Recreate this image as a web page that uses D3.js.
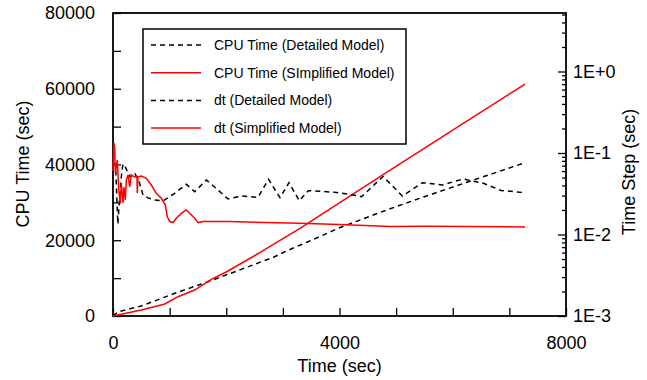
<!DOCTYPE html>
<html>
<head>
<meta charset="utf-8">
<script src="https://cdn.jsdelivr.net/npm/d3@7"></script>
<style>
  body { margin: 0; background: #fff; }
  text { font-family: "Liberation Sans", Arial, sans-serif; fill: #000; }
</style>
</head>
<body>
<script>
// cpu time curves (left axis), time in sec
var cpuDetTime = [0, 90, 500, 1090, 1678, 2266, 2855, 3067, 3444, 4000, 4800, 5500, 6246, 7276];
var cpuDetVal  = [0, 1100, 2640, 5990, 9060, 12320, 15660, 17200, 19600, 23300, 27800, 31500, 35300, 40470];
var cpuSimTime = [0, 500, 913, 1148, 1443, 1737, 2031, 2620, 3302, 4715, 6000, 7276];
var cpuSimVal  = [0, 1600, 3170, 5100, 6860, 9680, 11880, 16980, 23150, 36780, 49060, 61250];

// time step curves (right axis, log)
var dtDetTime = [0, 45, 85, 140, 175, 210, 265, 305, 383, 470, 530, 618, 736, 883, 1090, 1295, 1443, 1648, 1854, 2031,
                 2266, 2560, 2747, 2949, 3108, 3290, 3449, 3920, 4240, 4390, 4770, 5110, 5466, 5820, 6180, 6540, 6855, 7276];
var dtDetVal  = [0.0733, 0.0733, 0.0135, 0.0466, 0.0733, 0.0692, 0.0568, 0.0508, 0.0568, 0.0428, 0.0305, 0.0281, 0.0265, 0.0258, 0.0320, 0.0413, 0.0335, 0.0466, 0.0352, 0.0273,
                 0.0297, 0.0286, 0.0476, 0.0283, 0.0432, 0.0260, 0.0345, 0.0330, 0.0305, 0.0291, 0.0515, 0.0297, 0.0432, 0.0405, 0.0480, 0.0425, 0.0347, 0.0326];
var dtSimTime = [0, 15, 30, 41, 76, 101, 129, 147, 177, 194, 217, 235, 265, 295, 323, 383, 424, 429, 441, 500, 588, 676, 765, 853, 924, 959,
                 1001, 1060, 1118, 1206, 1294, 1354, 1443, 1501, 1589, 2031, 2700, 3300, 4000, 4892, 5500, 6300, 7276];
var dtSimVal  = [0.06, 0.133, 0.118, 0.0568, 0.082, 0.0352, 0.0244, 0.0428, 0.0244, 0.0383, 0.0265, 0.0466, 0.0537, 0.0383, 0.0537, 0.0508, 0.051, 0.0323, 0.051, 0.0522, 0.049, 0.0405, 0.032, 0.0278, 0.0230, 0.0165,
                 0.0144, 0.0140, 0.0158, 0.0182, 0.0200, 0.0182, 0.0158, 0.0140, 0.0144, 0.0144, 0.0140, 0.0137, 0.0133, 0.0125, 0.0126, 0.0125, 0.0124];

var xTicks = [0, 1000, 2000, 3000, 4000, 5000, 6000, 7000, 8000];
var xLabels = [0, 4000, 8000];
var yTicks = [0, 10000, 20000, 30000, 40000, 50000, 60000, 70000, 80000];
var yLabels = [0, 20000, 40000, 60000, 80000];
var dtLabels = ["1E-3", "1E-2", "1E-1", "1E+0"];

var legendNames = ["CPU Time (Detailed Model)", "CPU Time (SImplified Model)", "dt (Detailed Model)", "dt (Simplified Model)"];

var W = 647, H = 380;
var margin = {top: 13, right: 81, bottom: 64, left: 113},
    width = W - margin.left - margin.right,
    height = H - margin.top - margin.bottom;

var svg = d3.select("body").append("svg")
    .attr("width", W)
    .attr("height", H);

var g = svg.append("g")
    .attr("transform", "translate(" + margin.left + "," + margin.top + ")");

var x = d3.scaleLinear().domain([0, 8000]).range([0, width]);
var y = d3.scaleLinear().domain([0, 80000]).range([height, 0]);
var yTop = Math.pow(10, -3 + height / 81.5);
var y2 = d3.scaleLog().domain([1e-3, yTop]).range([height, 0]);

// log ticks: 1..9 per decade
var dtTicks = [];
[-3, -2, -1, 0].forEach(function(k) {
  for (var m = 1; m <= 9; m++) {
    var v = m * Math.pow(10, k);
    if (v <= yTop) dtTicks.push(v);
  }
});

// axes
var fs = 18;
var xAxis = g.append("g").attr("transform", "translate(0," + height + ")")
  .call(d3.axisBottom(x).tickValues(xTicks).tickSizeInner(-8).tickSizeOuter(0).tickPadding(20)
    .tickFormat(function(d) { return xLabels.indexOf(d) >= 0 ? d : ""; }));
var yAxis = g.append("g")
  .call(d3.axisLeft(y).tickValues(yTicks).tickSizeInner(-8).tickSizeOuter(0).tickPadding(18)
    .tickFormat(function(d) { return yLabels.indexOf(d) >= 0 ? d : ""; }));
var y2Axis = g.append("g").attr("transform", "translate(" + width + ",0)")
  .call(d3.axisRight(y2).tickValues(dtTicks).tickSizeInner(-4).tickSizeOuter(0).tickPadding(7)
    .tickFormat(function(d) {
      var e = Math.log10(d);
      return Math.abs(e - Math.round(e)) < 1e-9 ? dtLabels[Math.round(e) + 3] : "";
    }));
y2Axis.selectAll(".tick line").attr("x2", function(d) {
  var e = Math.log10(d);
  return Math.abs(e - Math.round(e)) < 1e-9 ? -8 : -4;
});

[xAxis, yAxis, y2Axis].forEach(function(a) {
  a.selectAll(".domain").remove();
  a.selectAll(".tick line").attr("stroke", "#000").attr("stroke-width", 1.3);
  a.selectAll("text").attr("font-size", fs).attr("font-family", "Liberation Sans, Arial, sans-serif");
});

// frame
g.append("rect")
  .attr("width", width).attr("height", height)
  .attr("fill", "none").attr("stroke", "#000").attr("stroke-width", 1.8);

// lines
function drawLine(ts, vs, yScale, color, dash) {
  var pts = ts.map(function(t, i) { return [t, vs[i]]; });
  var line = d3.line().x(function(d) { return x(d[0]); }).y(function(d) { return yScale(d[1]); });
  g.append("path").datum(pts)
    .attr("d", line)
    .attr("fill", "none")
    .attr("stroke", color)
    .attr("stroke-width", 1.5)
    .attr("stroke-dasharray", dash);
}
drawLine(cpuDetTime, cpuDetVal, y, "#000", "5,4");
drawLine(cpuSimTime, cpuSimVal, y, "#ff0000", null);
drawLine(dtDetTime, dtDetVal, y2, "#000", "5,4");
drawLine(dtSimTime, dtSimVal, y2, "#ff0000", null);

// axis titles
svg.append("text")
  .attr("x", margin.left + width / 2).attr("y", 372)
  .attr("text-anchor", "middle").attr("font-size", fs)
  .text("Time (sec)");
svg.append("text")
  .attr("transform", "translate(29,164) rotate(-90)")
  .attr("text-anchor", "middle").attr("font-size", fs)
  .text("CPU Time (sec)");
svg.append("text")
  .attr("transform", "translate(635,172) rotate(-90)")
  .attr("text-anchor", "middle").attr("font-size", fs)
  .text("Time Step (sec)");

// legend
var leg = svg.append("g").attr("transform", "translate(143,29)");
leg.append("rect").attr("width", 263).attr("height", 115)
  .attr("fill", "#fff").attr("stroke", "#000").attr("stroke-width", 1.5);
var legColors = ["#000", "#ff0000", "#000", "#ff0000"];
var legDash = ["5,4", null, "5,4", null];
legendNames.forEach(function(name, i) {
  var yy = 16 + i * 27.7;
  leg.append("line").attr("x1", 8).attr("x2", 58).attr("y1", yy).attr("y2", yy)
    .attr("stroke", legColors[i]).attr("stroke-width", 1.5).attr("stroke-dasharray", legDash[i]);
  leg.append("text").attr("x", 71).attr("y", yy).attr("dy", "0.35em")
    .attr("font-size", 14).text(name);
});
</script>
</body>
</html>
